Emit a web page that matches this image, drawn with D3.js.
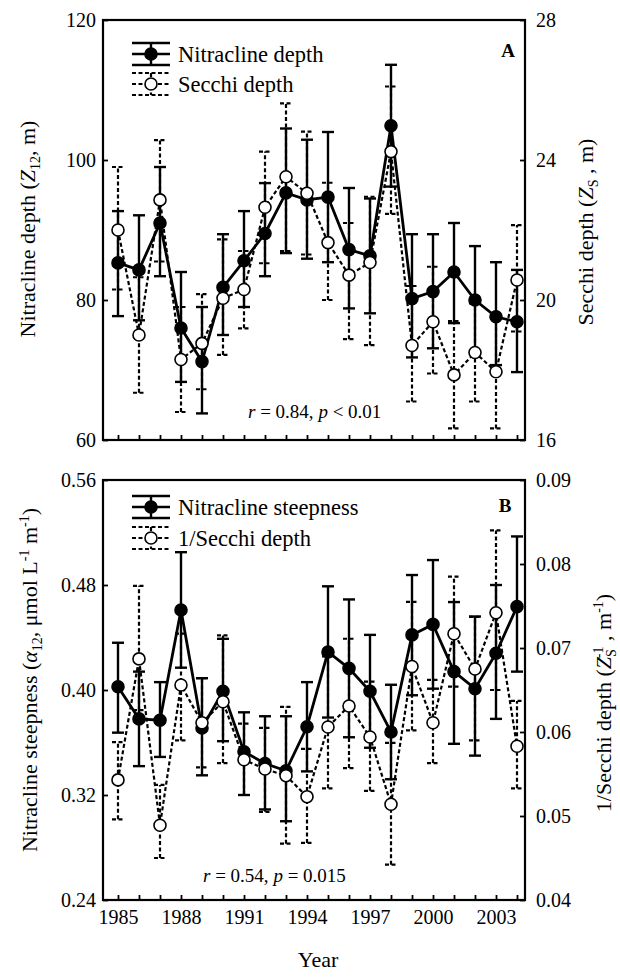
<!DOCTYPE html>
<html><head><meta charset="utf-8">
<script src="https://cdn.jsdelivr.net/npm/d3@7"></script>
<style>body{margin:0;background:#fff}</style>
</head><body>
<svg id="c" width="620" height="978" xmlns="http://www.w3.org/2000/svg"></svg>
<script>
const years = d3.range(1985, 2005);
const xLabelYears = [1985, 1988, 1991, 1994, 1997, 2000, 2003];

// Panel A – Nitracline depth (m)
const depthMean = [85.3, 84.3, 91.0, 76.0, 71.2, 81.8, 85.6, 89.5, 95.3, 94.3, 94.7, 87.2, 86.3, 104.9, 80.2, 81.2, 84.0, 80.0, 77.6, 76.9];
const depthLo   = [77.7, 77.1, 83.4, 68.3, 63.8, 75.0, 79.0, 83.4, 86.7, 85.9, 85.4, 78.8, 78.1, 96.2, 71.8, 73.1, 76.7, 72.3, 70.7, 69.7];
const depthHi   = [92.7, 92.1, 99.0, 84.0, 79.0, 89.4, 92.7, 96.7, 104.5, 102.9, 104.0, 96.0, 94.5, 113.6, 89.4, 89.4, 91.0, 87.7, 85.4, 84.3];
// Panel A – Secchi depth (m)
const secchiMean = [22.0, 19.0, 22.86, 18.3, 18.76, 20.05, 20.3, 22.65, 23.52, 23.05, 21.64, 20.71, 21.07, 24.24, 18.7, 19.38, 17.86, 18.5, 17.95, 20.57];
const secchiLo   = [20.3, 17.35, 21.1, 16.8, 17.45, 18.43, 19.19, 21.05, 21.4, 21.3, 20.0, 18.88, 18.71, 22.46, 17.1, 17.9, 16.33, 17.1, 16.33, 19.1];
const secchiHi   = [23.8, 20.65, 24.57, 19.8, 20.17, 21.73, 21.4, 24.24, 25.62, 24.81, 23.35, 22.2, 22.95, 26.1, 20.4, 20.95, 19.4, 19.9, 19.6, 22.14];
// Panel B – Nitracline steepness
const steepMean = [0.4025, 0.378, 0.377, 0.461, 0.371, 0.399, 0.353, 0.344, 0.3385, 0.372, 0.429, 0.4165, 0.399, 0.368, 0.442, 0.450, 0.414, 0.401, 0.428, 0.4635];
const steepLo   = [0.3675, 0.342, 0.349, 0.417, 0.335, 0.361, 0.320, 0.309, 0.300, 0.338, 0.379, 0.364, 0.356, 0.332, 0.396, 0.401, 0.359, 0.350, 0.378, 0.414];
const steepHi   = [0.436, 0.414, 0.406, 0.505, 0.409, 0.439, 0.383, 0.380, 0.380, 0.406, 0.479, 0.469, 0.442, 0.404, 0.4876, 0.499, 0.467, 0.456, 0.480, 0.517];
// Panel B – 1/Secchi depth
const invMean = [0.0543, 0.0687, 0.0489, 0.0656, 0.0611, 0.0636, 0.0567, 0.0556, 0.0548, 0.0523, 0.0606, 0.0631, 0.0594, 0.0514, 0.0678, 0.0611, 0.0717, 0.0675, 0.0742, 0.0583];
const invLo   = [0.0496, 0.0626, 0.045, 0.059, 0.0558, 0.0563, 0.0525, 0.0505, 0.0467, 0.0468, 0.0533, 0.0557, 0.053, 0.0442, 0.0602, 0.0563, 0.0654, 0.059, 0.065, 0.0533];
const invHi   = [0.0588, 0.0774, 0.0537, 0.0717, 0.0664, 0.0715, 0.061, 0.0605, 0.063, 0.058, 0.069, 0.0711, 0.066, 0.0587, 0.0755, 0.0662, 0.0785, 0.0737, 0.084, 0.0637];

const ticksA = [60, 80, 100, 120];
const ticksA2 = [16, 20, 24, 28];
const ticksB = [0.24, 0.32, 0.40, 0.48, 0.56];
const ticksB2 = [0.04, 0.05, 0.06, 0.07, 0.08, 0.09];

const FONT = "'Liberation Serif','Times New Roman',serif";
const svg = d3.select("#c");
svg.append("rect").attr("width", 620).attr("height", 978).attr("fill", "#fff");

const L = 103, R = 525;
const x = d3.scaleLinear().domain([1984.286, 2004.381]).range([L, R]);
const panels = [
  { top: 20, bot: 440, y: d3.scaleLinear().domain([60, 120]).range([440, 20]),
    y2: d3.scaleLinear().domain([16, 28]).range([440, 20]),
    t1: ticksA, t2: ticksA2, f1: d3.format("d"), f2: d3.format("d"),
    s1: [depthMean, depthLo, depthHi], s2: [secchiMean, secchiLo, secchiHi],
    xlab: false },
  { top: 480, bot: 900, y: d3.scaleLinear().domain([0.24, 0.56]).range([900, 480]),
    y2: d3.scaleLinear().domain([0.04, 0.09]).range([900, 480]),
    t1: ticksB, t2: ticksB2, f1: d3.format(".2f"), f2: d3.format(".2f"),
    s1: [steepMean, steepLo, steepHi], s2: [invMean, invLo, invHi],
    xlab: true }
];

const DASH = "4,2.5";

function drawSeries(g, y, s, dashed) {
  const [m, lo, hi] = s;
  const eb = g.append("g").attr("stroke", "#000").attr("stroke-width", dashed ? 2.2 : 2.4)
    .attr("stroke-dasharray", dashed ? DASH : null).attr("fill", "none");
  years.forEach((yr, i) => {
    const cx = x(yr);
    eb.append("line").attr("x1", cx).attr("x2", cx).attr("y1", y(lo[i])).attr("y2", y(hi[i]));
    eb.append("line").attr("x1", cx - 6).attr("x2", cx + 6).attr("y1", y(lo[i])).attr("y2", y(lo[i]));
    eb.append("line").attr("x1", cx - 6).attr("x2", cx + 6).attr("y1", y(hi[i])).attr("y2", y(hi[i]));
  });
  return () => {
    g.append("path").datum(years.map((yr, i) => [x(yr), y(m[i])]))
      .attr("d", d3.line()).attr("fill", "none").attr("stroke", "#000")
      .attr("stroke-width", dashed ? 2.2 : 2.8).attr("stroke-dasharray", dashed ? DASH : null);
  };
}
function drawMarkers(g, y, s, filled) {
  g.append("g").selectAll("circle").data(years).join("circle")
    .attr("cx", d => x(d)).attr("cy", (d, i) => y(s[0][i])).attr("r", 6)
    .attr("fill", filled ? "#000" : "#fff").attr("stroke", "#000").attr("stroke-width", 1.6);
}

panels.forEach(p => {
  const g = svg.append("g");
  const ax = d3.axisLeft(p.y).tickValues(p.t1).tickSize(-5).tickPadding(7).tickFormat(p.f1);
  const ar = d3.axisRight(p.y2).tickValues(p.t2).tickSize(-5).tickPadding(11).tickFormat(p.f2);
  const ab = d3.axisBottom(x).tickValues(years).tickSize(-5).tickPadding(10)
    .tickFormat(d => p.xlab && xLabelYears.includes(d) ? String(d) : "");
  [[ax, `translate(${L},0)`], [ar, `translate(${R},0)`], [ab, `translate(0,${p.bot})`]].forEach(([a, t]) => {
    const ga = g.append("g").attr("transform", t).call(a);
    ga.select(".domain").remove();
    ga.selectAll("line").attr("stroke", "#000").attr("stroke-width", 1.8);
    ga.selectAll("text").attr("font-family", FONT).attr("font-size", 20).attr("fill", "#000");
  });
  const line1 = drawSeries(g, p.y, p.s1, false);
  const line2 = drawSeries(g, p.y2, p.s2, true);
  line1(); line2();
  drawMarkers(g, p.y, p.s1, true);
  drawMarkers(g, p.y2, p.s2, false);
  g.append("rect").attr("x", L).attr("y", p.top).attr("width", R - L).attr("height", p.bot - p.top)
    .attr("fill", "none").attr("stroke", "#000").attr("stroke-width", 2.2);
});

function legend(cy, label, dashed, filled) {
  const g = svg.append("g").attr("stroke", "#000").attr("stroke-width", dashed ? 2.2 : 2.4)
    .attr("stroke-dasharray", dashed ? DASH : null);
  const x0 = 132, x1 = 170, xc = 151, h = 11;
  g.append("line").attr("x1", x0).attr("x2", x1).attr("y1", cy - h).attr("y2", cy - h);
  g.append("line").attr("x1", x0).attr("x2", x1).attr("y1", cy + h).attr("y2", cy + h);
  g.append("line").attr("x1", x0).attr("x2", x1).attr("y1", cy).attr("y2", cy);
  g.append("line").attr("x1", xc).attr("x2", xc).attr("y1", cy - h).attr("y2", cy + h);
  svg.append("circle").attr("cx", xc).attr("cy", cy).attr("r", 6)
    .attr("fill", filled ? "#000" : "#fff").attr("stroke", "#000").attr("stroke-width", 1.6);
  svg.append("text").attr("x", 178).attr("y", cy + 8).attr("font-family", FONT)
    .attr("font-size", 22.5).text(label);
}
legend(54, "Nitracline depth", false, true);
legend(84, "Secchi depth", true, false);
legend(507, "Nitracline steepness", false, true);
legend(538, "1/Secchi depth", true, false);

svg.append("text").attr("x", 508).attr("y", 57).attr("text-anchor", "middle").attr("font-family", FONT)
  .attr("font-weight", "bold").attr("font-size", 19).text("A");
svg.append("text").attr("x", 505).attr("y", 512).attr("text-anchor", "middle").attr("font-family", FONT)
  .attr("font-weight", "bold").attr("font-size", 19).text("B");

function annot(xp, yp, parts) {
  const t = svg.append("text").attr("x", xp).attr("y", yp).attr("font-family", FONT).attr("font-size", 19);
  parts.forEach(([s, it]) => t.append("tspan").attr("font-style", it ? "italic" : "normal").text(s));
}
annot(248, 418, [["r", true], [" = 0.84, ", false], ["p", true], [" < 0.01", false]]);
annot(203, 882, [["r", true], [" = 0.54, ", false], ["p", true], [" = 0.015", false]]);

function title(tx, ty, parts) {
  const t = svg.append("text").attr("transform", `translate(${tx},${ty}) rotate(-90)`)
    .attr("text-anchor", "middle").attr("font-family", FONT).attr("font-size", 22);
  parts.forEach(pp => {
    const ts = t.append("tspan").text(pp.s);
    if (pp.it) ts.attr("font-style", "italic");
    if (pp.fs) ts.attr("font-size", pp.fs);
    if (pp.dy) ts.attr("dy", pp.dy);
    if (pp.dx) ts.attr("dx", pp.dx);
  });
}
title(35, 229, [{s: "Nitracline depth ("}, {s: "Z", it: true}, {s: "12", fs: 14, dy: 5}, {s: ", m)", dy: -5}]);
title(593, 232, [{s: "Secchi depth ("}, {s: "Z", it: true}, {s: "S", fs: 14, dy: 5}, {s: " , m)", dy: -5}]);
title(37, 680, [{s: "Nitracline steepness ("}, {s: "α", it: true}, {s: "12", fs: 14, dy: 5}, {s: ", μmol L", dy: -5},
  {s: "-1", fs: 14, dy: -8}, {s: " m", dy: 8}, {s: "-1", fs: 14, dy: -8}, {s: ")", dy: 8}]);
title(611, 703, [{s: "1/Secchi depth ("}, {s: "Z", it: true}, {s: "S", fs: 14, dy: 5}, {s: "-1", fs: 14, dy: -13, dx: -9},
  {s: " , m", dy: 8}, {s: "-1", fs: 14, dy: -8}, {s: ")", dy: 8}]);

svg.append("text").attr("x", 318).attr("y", 967).attr("text-anchor", "middle").attr("font-family", FONT)
  .attr("font-size", 22).text("Year");
</script>
</body></html>
